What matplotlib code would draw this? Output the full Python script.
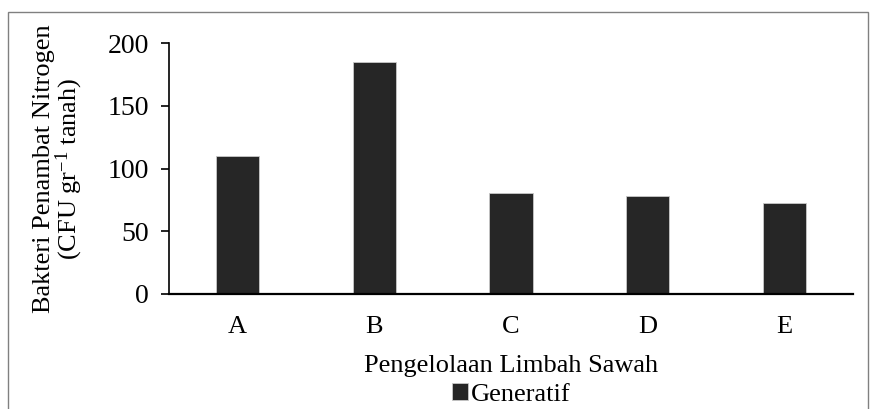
import matplotlib
matplotlib.use("Agg")
import matplotlib.pyplot as plt
from matplotlib.patches import Rectangle

categories = ["A", "B", "C", "D", "E"]
generatif = [110, 185, 80.5, 78, 72.5]
yticks = [0, 50, 100, 150, 200]

plt.rcParams['font.family'] = ['Liberation Serif', 'DejaVu Serif']
plt.rcParams['mathtext.fontset'] = 'custom'
plt.rcParams['mathtext.rm'] = 'Liberation Serif'
plt.rcParams['mathtext.it'] = 'Liberation Serif:italic'

fig = plt.figure(figsize=(8.76, 4.09), dpi=100)
ax = fig.add_axes([0.1933, 0.2812, 0.7801, 0.6130])

x = range(len(categories))
ax.bar(x, generatif, width=0.315, color='#262626', edgecolor='#c8c8c8',
       linewidth=0.6, label='Generatif')

ax.set_xlim(-0.5, len(categories) - 0.5)
ax.set_ylim(0, 200)
ax.set_yticks(yticks)
ax.set_xticks(list(x))
ax.set_xticklabels(categories)
ax.tick_params(axis='y', direction='out', length=5.5, width=1.2, labelsize=20, pad=9)
ax.tick_params(axis='x', length=0, labelsize=19, pad=16)

for s in ['top', 'right']:
    ax.spines[s].set_visible(False)
ax.spines['left'].set_linewidth(1.2)
ax.spines['bottom'].set_linewidth(1.6)

ax.set_ylabel('Bakteri Penambat Nitrogen\n(CFU gr$^{\\mathrm{-1}}$ tanah)', fontsize=19,
              labelpad=16, linespacing=0.95)
ax.set_xlabel('Pengelolaan Limbah Sawah', fontsize=19, labelpad=12)

leg = ax.legend(loc='upper center', bbox_to_anchor=(0.5, -0.357), frameon=False,
                fontsize=19, handlelength=0.6, handleheight=0.6,
                handletextpad=0.1, borderaxespad=0, borderpad=0)

# outer border
fig.patches.append(Rectangle((8 / 876, -0.01), 860 / 876, 1 - 12 / 409 + 0.01,
                             transform=fig.transFigure, fill=False,
                             edgecolor='#808080', linewidth=1.0))

fig.savefig('out.png', dpi=100)
